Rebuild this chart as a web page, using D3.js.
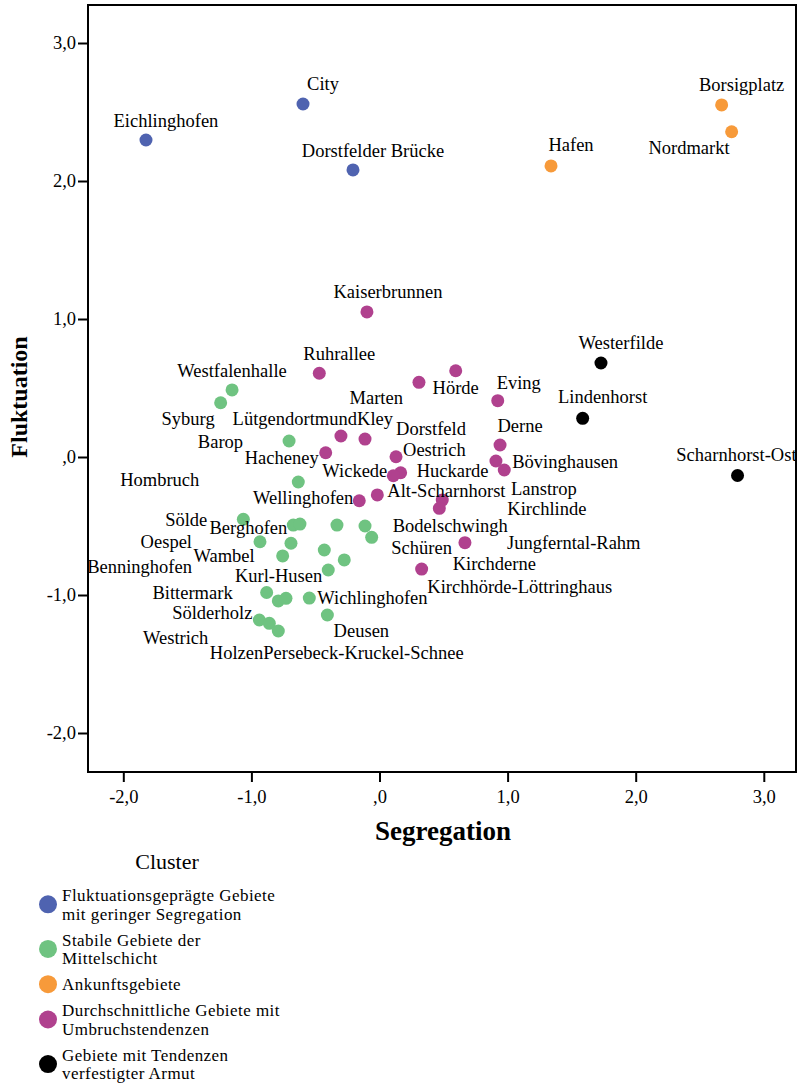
<!DOCTYPE html>
<html><head><meta charset="utf-8">
<script src="https://cdn.jsdelivr.net/npm/d3@7"></script>
<style>
body{margin:0;background:#fff}
svg{display:block}
svg text{font-family:"Liberation Serif","Tinos","Times New Roman","DejaVu Serif",serif !important;fill:#000}
</style>
</head><body>
<svg id="chart" width="797" height="1083"></svg>
<script>
// ---------- DATA ----------
const clusterTitle = "Cluster";
const clusterLegend = [
  ["Fluktuationsgeprägte Gebiete", "mit geringer Segregation"],
  ["Stabile Gebiete der", "Mittelschicht"],
  ["Ankunftsgebiete"],
  ["Durchschnittliche Gebiete mit", "Umbruchstendenzen"],
  ["Gebiete mit Tendenzen", "verfestigter Armut"]
];
// [name, Segregation, Fluktuation]  (null name = point without visible label)
const fluktuationAreas = [
  ["Eichlinghofen", -1.823, 2.297],
  ["City", -0.597, 2.558],
  ["Dorstfelder Brücke", -0.207, 2.080]
];
const mittelschichtAreas = [
  ["Westfalenhalle", -1.151, 0.486],
  ["Syburg", -1.240, 0.393],
  ["Barop", -0.706, 0.116],
  ["Hombruch", -0.634, -0.181],
  ["Sölde", -1.063, -0.451],
  ["Berghofen", -0.673, -0.493],
  [null, -0.621, -0.486],
  [null, -0.332, -0.493],
  ["Dorstfeld", -0.113, -0.500],
  ["Kirchderne", -0.061, -0.582],
  ["Oespel", -0.933, -0.614],
  ["Benninghofen", -0.691, -0.625],
  ["Wambel", -0.756, -0.717],
  [null, -0.431, -0.674],
  ["Kirchhörde-Löttringhaus", -0.275, -0.746],
  ["Kurl-Husen", -0.400, -0.819],
  ["Bittermark", -0.881, -0.982],
  ["Persebeck-Kruckel-Schnee", -0.790, -1.043],
  [null, -0.730, -1.024],
  ["Wichlinghofen", -0.548, -1.022],
  ["Deusen", -0.407, -1.145],
  ["Sölderholz", -0.938, -1.181],
  ["Westrich", -0.860, -1.205],
  ["Holzen", -0.790, -1.261]
];
const ankunftAreas = [
  ["Borsigplatz", 2.671, 2.551],
  ["Nordmarkt", 2.749, 2.357],
  ["Hafen", 1.339, 2.109]
];
const umbruchAreas = [
  ["Kaiserbrunnen", -0.098, 1.051],
  ["Ruhrallee", -0.470, 0.607],
  ["Hörde", 0.595, 0.625],
  ["Marten", 0.308, 0.541],
  ["Eving", 0.923, 0.408],
  ["Lütgendortmund", -0.301, 0.152],
  ["Kley", -0.113, 0.130],
  ["Hacheney", -0.420, 0.031],
  ["Derne", 0.941, 0.087],
  ["Oestrich", 0.129, 0.002],
  ["Huckarde", 0.165, -0.114],
  ["Wickede", 0.108, -0.136],
  ["Lanstrop", 0.909, -0.029],
  ["Bövinghausen", 0.974, -0.094],
  ["Alt-Scharnhorst", -0.017, -0.275],
  ["Wellinghofen", -0.158, -0.317],
  ["Kirchlinde", 0.490, -0.312],
  ["Bodelschwingh", 0.467, -0.372],
  ["Jungferntal-Rahm", 0.667, -0.621],
  ["Schüren", 0.329, -0.812]
];
const armutAreas = [
  ["Westerfilde", 1.729, 0.681],
  ["Lindenhorst", 1.586, 0.280],
  ["Scharnhorst-Ost", 2.795, -0.134]
];
const xTickValues = [-2, -1, 0, 1, 2, 3];
const xTickLabels = ["-2,0", "-1,0", ",0", "1,0", "2,0", "3,0"];
const yTickValues = [-2, -1, 0, 1, 2, 3];
const yTickLabels = ["-2,0", "-1,0", ",0", "1,0", "2,0", "3,0"];
const xTitle = "Segregation";
const yTitle = "Fluktuation";

// ---------- STYLE / LAYOUT ----------
const FONT = '"Liberation Serif","Tinos","Times New Roman","DejaVu Serif",serif';
const clusterColors = ["#4f63b0", "#6fc381", "#f79a3a", "#b0418e", "#000000"];
const clusterSeries = [fluktuationAreas, mittelschichtAreas, ankunftAreas, umbruchAreas, armutAreas];
// label placement relative to its point: [anchor, dx, dy(baseline)]
const labelPlacement = {
  "Eichlinghofen": ["middle", 20, -13], "City": ["middle", 20, -14], "Dorstfelder Brücke": ["middle", 20, -13],
  "Borsigplatz": ["middle", 20, -14], "Nordmarkt": ["end", -2, 22], "Hafen": ["middle", 20, -15],
  "Westerfilde": ["middle", 20, -14], "Lindenhorst": ["middle", 20, -15], "Scharnhorst-Ost": ["end", 59, -14],
  "Kaiserbrunnen": ["middle", 21, -14], "Ruhrallee": ["middle", 20, -13], "Hörde": ["middle", 0, 23],
  "Marten": ["end", -16, 22], "Eving": ["middle", 21, -12], "Lütgendortmund": ["end", 16, -11],
  "Kley": ["start", -8, -14], "Hacheney": ["end", -7, 11], "Derne": ["middle", 20, -13],
  "Oestrich": ["start", 7, -1], "Huckarde": ["start", 16, 4], "Wickede": ["end", -6, 1],
  "Lanstrop": ["start", 15, 34], "Bövinghausen": ["start", 8, -2], "Alt-Scharnhorst": ["start", 10, 2],
  "Wellinghofen": ["end", -6, 3], "Kirchlinde": ["start", 65, 15], "Bodelschwingh": ["middle", 11, 24],
  "Jungferntal-Rahm": ["start", 42, 6], "Schüren": ["middle", 0, -15],
  "Westfalenhalle": ["middle", 0, -13], "Syburg": ["end", -6, 22], "Barop": ["end", -46, 7],
  "Hombruch": ["end", -99, 4], "Sölde": ["end", -36, 7], "Berghofen": ["end", -6, 9],
  "Dorstfeld": ["middle", 66, -91], "Kirchderne": ["start", 81, 33], "Oespel": ["end", -68, 6],
  "Benninghofen": ["end", -99, 30], "Wambel": ["end", -28, 6], "Kirchhörde-Löttringhaus": ["start", 83, 33],
  "Kurl-Husen": ["end", -6, 12], "Bittermark": ["end", -34, 6], "Persebeck-Kruckel-Schnee": ["start", -15, 58],
  "Wichlinghofen": ["start", 8, 6], "Deusen": ["middle", 34, 22], "Sölderholz": ["end", -7, -1],
  "Westrich": ["end", -61, 21], "Holzen": ["end", -15, 28]
};
const plot = {left: 88, right: 796, top: 5, bottom: 772};
const LABEL_SIZE = 18.5;
const LEGEND_SIZE = 17;

const svg = d3.select("#chart");
const x = d3.scaleLinear().domain([-2.2756, 3.2514]).range([plot.left, plot.right]);
const y = d3.scaleLinear().domain([-2.2826, 3.2754]).range([plot.bottom, plot.top]);

// frame
svg.append("rect").attr("x", plot.left).attr("y", plot.top)
  .attr("width", plot.right - plot.left).attr("height", plot.bottom - plot.top)
  .attr("fill", "none").attr("stroke", "#000").attr("stroke-width", 2);

// axes
const xAxis = d3.axisBottom(x).tickValues(xTickValues).tickSize(10).tickPadding(8)
  .tickFormat((d, i) => xTickLabels[i]);
const gx = svg.append("g").attr("transform", `translate(0,${plot.bottom})`).call(xAxis)
  .attr("font-family", FONT);
gx.select(".domain").remove();
gx.selectAll(".tick line").attr("stroke", "#000").attr("stroke-width", 2);
gx.selectAll(".tick text").attr("font-size", LABEL_SIZE).attr("fill", "#000");

const yAxis = d3.axisLeft(y).tickValues(yTickValues).tickSize(10).tickPadding(2)
  .tickFormat((d, i) => yTickLabels[i]);
const gy = svg.append("g").attr("transform", `translate(${plot.left},0)`).call(yAxis)
  .attr("font-family", FONT);
gy.select(".domain").remove();
gy.selectAll(".tick line").attr("stroke", "#000").attr("stroke-width", 2);
gy.selectAll(".tick text").attr("font-size", LABEL_SIZE).attr("fill", "#000");

// axis titles
svg.append("text").attr("x", 443).attr("y", 840).attr("text-anchor", "middle")
  .attr("font-size", 27).attr("font-weight", "bold").text(xTitle);
svg.append("text").attr("transform", "translate(27,397) rotate(-90)").attr("text-anchor", "middle")
  .attr("font-size", 24).attr("font-weight", "bold").text(yTitle);

// points
const pts = svg.append("g");
clusterSeries.forEach((series, ci) => {
  pts.selectAll(null).data(series).enter().append("circle")
    .attr("cx", d => x(d[1])).attr("cy", d => y(d[2])).attr("r", 6.5)
    .attr("fill", clusterColors[ci]);
});
// labels
const lab = svg.append("g");
clusterSeries.forEach(series => {
  lab.selectAll(null).data(series.filter(d => d[0])).enter().append("text")
    .attr("x", d => x(d[1]) + labelPlacement[d[0]][1])
    .attr("y", d => y(d[2]) + labelPlacement[d[0]][2])
    .attr("text-anchor", d => labelPlacement[d[0]][0])
    .attr("font-size", LABEL_SIZE).text(d => d[0]);
});

// legend
svg.append("text").attr("x", 167).attr("y", 869).attr("text-anchor", "middle")
  .attr("font-size", 22).text(clusterTitle);
let bl = 901;
const lineH = 18.6;
const itemGap = 7.4;
clusterLegend.forEach((lines, i) => {
  const g = svg.append("g");
  g.append("circle").attr("cx", 48).attr("cy", bl - 6 + (lines.length - 1) * lineH / 2)
    .attr("r", 9).attr("fill", clusterColors[i]);
  const t = g.append("text").attr("x", 62).attr("y", bl).attr("font-size", LEGEND_SIZE)
    .attr("letter-spacing", 0.45);
  lines.forEach((s, j) => {
    t.append("tspan").attr("x", 62).attr("dy", j === 0 ? 0 : lineH).text(s);
  });
  bl += lines.length * lineH + itemGap;
});
</script>
</body></html>
